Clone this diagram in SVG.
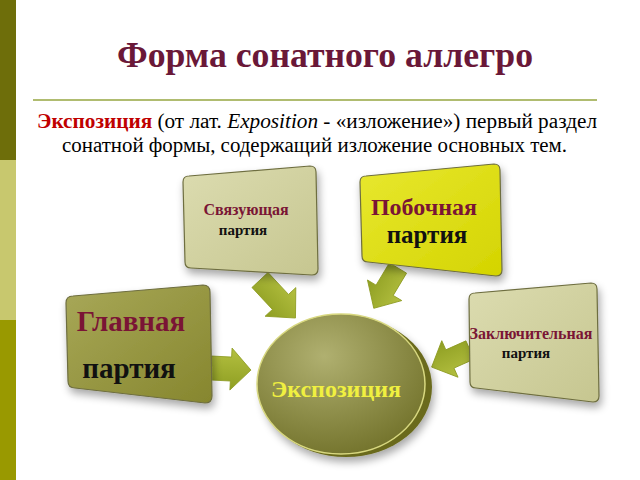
<svg xmlns="http://www.w3.org/2000/svg" width="640" height="480" viewBox="0 0 640 480">
<defs>
<style>
.title{font-weight:bold;font-size:36px;fill:#6A1838}
.para{font-size:20px;fill:#000}
.red{fill:#C00000;font-weight:bold}
.lbl{font-weight:bold;text-anchor:middle}
.mar{fill:#7A1535}
.blk{fill:#111}
.arr{fill:url(#ga);stroke:#8C9A20;stroke-width:0.8}
.box{stroke:#6E6E40;stroke-width:1.2}
</style>
<linearGradient id="ga" x1="0" y1="0" x2="0" y2="1"><stop offset="0" stop-color="#B4C040"/><stop offset="1" stop-color="#8E9E22"/></linearGradient>
<linearGradient id="gl" x1="0" y1="0" x2="1" y2="1"><stop offset="0" stop-color="#DCDCB0"/><stop offset="1" stop-color="#C6C690"/></linearGradient>
<linearGradient id="gy" x1="0" y1="0" x2="1" y2="1"><stop offset="0" stop-color="#E8E830"/><stop offset="1" stop-color="#D4D400"/></linearGradient>
<linearGradient id="go" x1="0" y1="0" x2="1" y2="1"><stop offset="0" stop-color="#A8A858"/><stop offset="1" stop-color="#86862E"/></linearGradient>
<radialGradient id="gc" cx="0.4" cy="0.3" r="0.8"><stop offset="0" stop-color="#B0B070"/><stop offset="1" stop-color="#6E6E26"/></radialGradient>
<filter id="sh" x="-20%" y="-20%" width="140%" height="150%"><feGaussianBlur in="SourceAlpha" stdDeviation="4"/><feOffset dx="2" dy="5"/><feComponentTransfer><feFuncA type="linear" slope="0.35"/></feComponentTransfer><feMerge><feMergeNode/><feMergeNode in="SourceGraphic"/></feMerge></filter>
</defs>
<rect width="640" height="480" fill="#fff"/>
<rect x="0" y="0" width="16" height="160" fill="#6E6E0A"/>
<rect x="0" y="160" width="16" height="160" fill="#C8C86E"/>
<rect x="0" y="320" width="16" height="160" fill="#999900"/>
<text class="title" font-family="Liberation Serif" x="325" y="67" text-anchor="middle" textLength="416" lengthAdjust="spacingAndGlyphs">Форма сонатного аллегро</text>
<line x1="33" y1="100" x2="597" y2="100" stroke="#B0BC70" stroke-width="2"/>
<text class="para" font-family="Liberation Serif" x="37" y="128" textLength="560" lengthAdjust="spacingAndGlyphs"><tspan class="red">Экспозиция</tspan> (от лат. <tspan font-style="italic">Exposition</tspan>  - «изложение») первый раздел</text>
<text class="para" font-family="Liberation Serif" x="62" y="152" textLength="505" lengthAdjust="spacingAndGlyphs">сонатной формы, содержащий изложение основных тем.</text>
<g id="connectors">
<path class="arr" d="M0,-11 L30,-11 L30,-21 L52,0 L30,21 L30,11 L0,11 Z" transform="translate(260,280) rotate(47)"/>
<path class="arr" d="M0,-10 L26,-10 L26,-20 L47,0 L26,20 L26,10 L0,10 Z" transform="translate(398,268) rotate(121)"/>
<path class="arr" d="M0,-12 L20,-12 L20,-21 L40,0 L20,21 L20,12 L0,12 Z" transform="translate(211,368) rotate(3)"/>
<path class="arr" d="M0,-10 L22,-10 L22,-20 L42,0 L22,20 L22,10 L0,10 Z" transform="translate(470,350) rotate(156)"/>
</g>
<g id="svyaz">
<path class="box" filter="url(#sh)" fill="url(#gl)" d="M189,176 L310,166 Q316,166 316,172 L318,269 Q318,275 312,275 L191,268 Q185,268 185,262 L183,182 Q183,176 189,176 Z"/>
<text class="lbl mar" font-family="Liberation Serif" x="246" y="215" font-size="16">Связующая</text>
<text class="lbl blk" font-family="Liberation Serif" x="243" y="235" font-size="15">партия</text>
</g>
<g id="poboch">
<path class="box" filter="url(#sh)" fill="url(#gy)" stroke="#8A8A20" d="M366,176 L494,164 Q500,164 500,170 L502,270 Q502,276 496,276 L368,262 Q362,262 362,256 L360,182 Q360,176 366,176 Z"/>
<text class="lbl mar" font-family="Liberation Serif" x="424" y="215" font-size="24">Побочная</text>
<text class="lbl blk" font-family="Liberation Serif" x="427" y="243" font-size="25">партия</text>
</g>
<g id="glav">
<path class="box" filter="url(#sh)" fill="url(#go)" stroke="#E0E040" stroke-width="2.5" d="M73,296 L203,285 Q210,285 210,292 L212,396 Q212,403 205,403 L75,388 Q68,388 68,381 L66,303 Q66,296 73,296 Z"/>
<text class="lbl mar" font-family="Liberation Serif" x="131" y="331" font-size="29">Главная</text>
<text class="lbl blk" font-family="Liberation Serif" x="129" y="378" font-size="29">партия</text>
</g>
<g id="zakl">
<path class="box" filter="url(#sh)" fill="url(#gl)" d="M475,293 L591,283 Q597,283 597,289 L599,396 Q599,402 593,402 L476,388 Q470,388 470,382 L469,299 Q469,293 475,293 Z"/>
<text class="lbl mar" font-family="Liberation Serif" x="531" y="339" font-size="16">Заключительная</text>
<text class="lbl blk" font-family="Liberation Serif" x="526" y="358" font-size="15">партия</text>
</g>
<g id="expo">
<ellipse cx="346" cy="387" rx="86" ry="70" fill="#6A6A1E" filter="url(#sh)"/>
<ellipse cx="341" cy="384" rx="84" ry="70" fill="url(#gc)" stroke="#D8D880" stroke-width="1.5"/>
<text class="lbl" font-family="Liberation Serif" x="336" y="397" font-size="24" fill="#F0F040">Экспозиция</text>
</g>
</svg>
